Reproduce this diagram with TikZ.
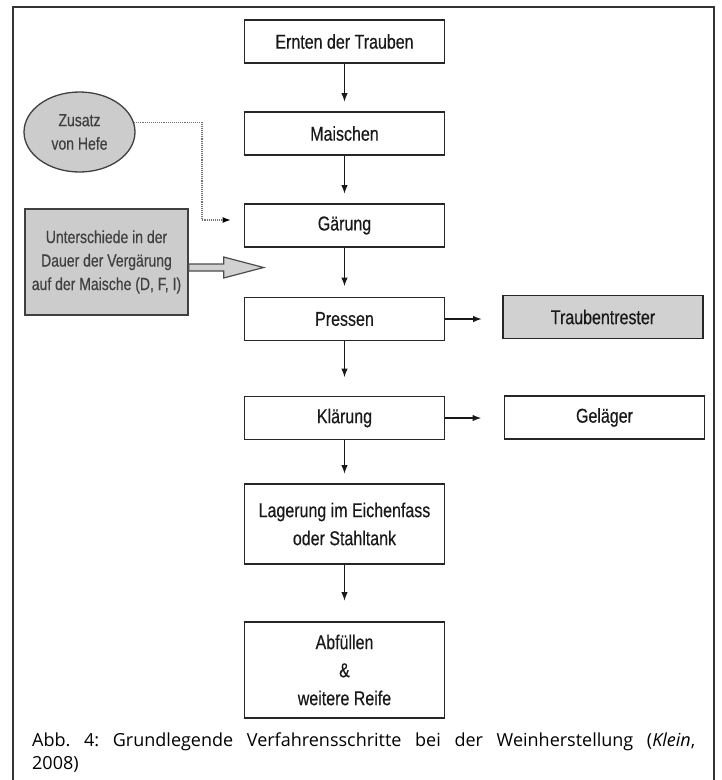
\documentclass[tikz,border=0pt]{standalone}
\usepackage{fontspec}
\setmainfont{Liberation Sans}
\newfontfamily\schmal[FakeStretch=0.8,FakeBold=0.4]{Liberation Sans}
\newfontfamily\capfont{Open Sans}
\usepackage{tikz}
\usetikzlibrary{arrows.meta,shapes.geometric}

\tikzset{
    schritt/.style={draw=black!85, line width=1.8pt, minimum width=200pt, minimum height=43pt,
        inner sep=0pt, align=center, text=black!90, font=\schmal\fontsize{20}{28}\selectfont},
    rest/.style={schritt, fill=black!18},
    zusatz/.style={draw=black!75, line width=1.3pt, fill=black!20, inner sep=0pt, align=center,
        text=black!75, font=\schmal\fontsize{17.5}{23.5}\selectfont},
    fluss/.style={-{Latex[length=9pt,width=6.5pt]}, line width=1.6pt, draw=black!90},
    hefelinie/.style={densely dotted, line width=1.1pt, draw=black!55, -{Latex[length=8pt,width=6pt,color=black]}},
    hohlpfeil/.style={draw=black!70, line width=1.2pt, fill=black!18, line join=miter},
    rahmen/.style={draw=black!80, line width=1.6pt},
}

\begin{document}
\begin{tikzpicture}[x=1pt, y=-1pt]
    \useasboundingbox (0,0) rectangle (722,780);
    \draw[rahmen] (13,780) -- (13,7) -- (714,7) -- (714,780);

    \node[schritt] (ernten) at (344.5,41.5) {Ernten der Trauben};
    \node[schritt] (maischen) at (344.5,133.5) {Maischen};
    \node[schritt] (gaerung) at (344.5,225.5) {Gärung};
    \node[schritt] (pressen) at (344.5,319) {Pressen};
    \node[schritt] (klaerung) at (344.5,418) {Klärung};
    \node[schritt, minimum height=80pt] (lagerung) at (344.5,524) {Lagerung im Eichenfass\\oder Stahltank};
    \node[schritt, minimum height=96pt] (abfuellen) at (344.5,670) {Abfüllen\\\&\\weitere Reife};

    \node[rest] (trester) at (603,317) {Traubentrester};
    \node[schritt] (gelaeger) at (604.5,417.5) {Geläger};

    \node[zusatz, ellipse, minimum width=111pt, minimum height=80pt] (hefe) at (79.5,132) {Zusatz\\von Hefe};
    \node[zusatz, minimum width=163pt, minimum height=106pt] (dauer) at (106.5,262)
        {Unterschiede in der\\Dauer der Vergärung\\auf der Maische (D, F, I)};

    \draw[fluss, shorten >=9pt] (ernten) -- (maischen);
    \draw[fluss, shorten >=9pt] (maischen) -- (gaerung);
    \draw[fluss, shorten >=10pt] (gaerung) -- (pressen);
    \draw[fluss, shorten >=18pt] (pressen) -- (klaerung);
    \draw[fluss, shorten >=9pt] (klaerung) -- (lagerung);
    \draw[fluss, shorten >=20pt] (lagerung) -- (abfuellen);

    \draw[fluss, shorten >=20pt] (pressen.east) -- (pressen.east -| trester.west);
    \draw[fluss, shorten >=22pt] (klaerung.east) -- (klaerung.east -| gelaeger.west);

    \coordinate (knick) at (202,220);
    \draw[hefelinie, shorten >=13pt] (hefe.10) -| (knick) -- (knick -| gaerung.west);

    \draw[hohlpfeil] ([yshift=-2pt]dauer.east) -- ++(35,0) -- ++(0,-7) -- ++(40,10.5)
        -- ++(-40,10.5) -- ++(0,-7) -- ++(-35,0) -- cycle;

    \node[anchor=north west, inner sep=0pt, text width=663pt, align=justify,
        font=\capfont\frenchspacing\fontsize{18}{23}\selectfont] (unterschrift) at (32,733)
        {Abb.~4: Grundlegende Verfahrensschritte bei der Weinherstellung (\textit{Klein},\linebreak 2008)};
\end{tikzpicture}
\end{document}
